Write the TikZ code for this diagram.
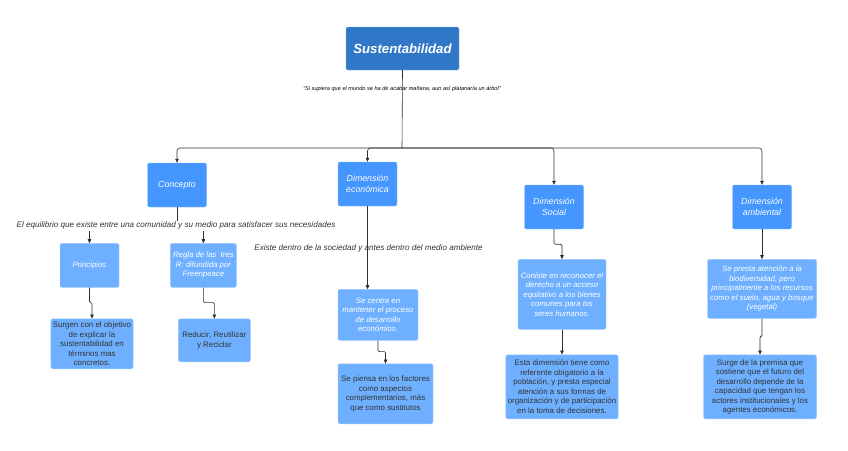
\documentclass[tikz,border=0pt]{standalone}
\usepackage{fontspec}
\setmainfont{Liberation Sans}
\usetikzlibrary{positioning,arrows.meta}
\definecolor{Title}{HTML}{3177C7}
\definecolor{Dim}{HTML}{4596FF}
\definecolor{Leaf}{HTML}{6EB0FF}
\definecolor{Ink}{HTML}{333333}
\definecolor{Wire}{HTML}{2E2E2E}

\begin{document}
\begin{tikzpicture}[
  x=1pt, y=-1pt,
  every node/.style={align=center, inner sep=2pt},
  titlebox/.style={rounded corners=2pt, draw=Title!60!white, fill=Title, text=white, minimum width=113pt, minimum height=43pt, font=\fontsize{13.2}{15}\selectfont\bfseries\itshape},
  dimbox/.style={rounded corners=2pt, draw=Dim!70!white, fill=Dim, text=white, minimum width=59pt, minimum height=44pt, font=\fontsize{8.8}{10.8}\selectfont\itshape},
  notebox/.style={rounded corners=2pt, draw=Leaf!70!white, fill=Leaf, text=white, font=\fontsize{7.8}{9.5}\selectfont\itshape},
  leafbox/.style={rounded corners=2pt, draw=Leaf!70!white, fill=Leaf, text=Ink, font=\fontsize{7.9}{9.5}\selectfont},
  lbl/.style={text=Ink, font=\fontsize{8.1}{9}\selectfont\itshape, inner sep=0pt},
  arr/.style={-{Triangle[length=4pt, width=3.5pt]}, line width=0.6pt, Wire, rounded corners=3pt},
  jog/.style={arr, rounded corners=1.2pt}
]
\useasboundingbox (0,0) rectangle (848,450);

% Title
\node[titlebox] (sust) at (402.5,48.5) {Sustentabilidad};
\node[lbl, text=black, font=\fontsize{5.6}{6}\selectfont\itshape] (quote) at (402,89)
  {``Si supiera que el mundo se ha de acabar mañana, aun así platanaría un árbol''};
\coordinate (hub) at (402,148);

% Dimensions
\node[dimbox] (concepto) at (177,185) {Concepto};
\node[dimbox] (economica) at (367.5,184) {Dimensión\\económica};
\node[dimbox] (social) at (554,207) {Dimensión\\Social};
\node[dimbox] (ambiental) at (762,207) {Dimensión\\ambiental};

% Concepto branch
\node[lbl] (equilibrio) at (176,225) {El equilibrio que existe entre una comunidad y su medio para satisfacer sus necesidades};
\node[notebox, minimum width=59pt, minimum height=44pt, below=36pt of concepto, xshift=-87.5pt] (principios) {Principios};
\node[notebox, minimum width=66pt, minimum height=44pt, right=51pt of principios] (regla) {Regla de las\ \ tres\\R: difundida por\\Freenpeace};
\node[leafbox, minimum width=82pt, minimum height=50pt, below=31pt of principios, xshift=2.5pt] (surgen)
  {Surgen con el objetivo\\de explicar la\\sustentabilidad en\\términos mas\\concretos.};
\node[leafbox, minimum width=72pt, minimum height=43pt, below=31pt of regla, xshift=11pt] (reducir)
  {Reducir, Reutilizar\\y Reciclar};

% Economica branch
\node[lbl] (existe) at (368.5,248) {Existe dentro de la sociedad y antes dentro del medio ambiente};
\node[notebox, minimum width=80pt, minimum height=51pt, below=83pt of economica, xshift=10.5pt] (centra)
  {Se centra en\\mantener el proceso\\de desarrollo\\económico.};
\node[leafbox, minimum width=95pt, minimum height=60pt, below=23pt of centra, xshift=7.5pt] (piensa)
  {Se piensa en los factores\\como aspectos\\complementarios, más\\que como sustitutos};

% Social branch
\node[notebox, minimum width=88pt, minimum height=70pt, below=30pt of social, xshift=8pt] (coniste)
  {Coniste en reconocer el\\derecho a un acceso\\equitativo a los bienes\\comunes para los\\seres humanos.};
\node[leafbox, minimum width=112pt, minimum height=64pt, below=25pt of coniste] (esta)
  {Esta dimensión tiene como\\referente obigatorio a la\\población, y presta especial\\atención a sus formas de\\organización y de participación\\en la toma de decisiones.};

% Ambiental branch
\node[notebox, minimum width=109pt, minimum height=59pt, below=30pt of ambiental] (presta)
  {Se presta atención a la\\biodiversidad, pero\\principalmente a los recursos\\como el suelo, agua y bosque\\(vegetal)};
\node[leafbox, minimum width=113pt, minimum height=64pt, below=36pt of presta, xshift=-2pt] (surge)
  {Surge de la premisa que\\sostiene que el futuro del\\desarrollo depende de la\\capacidad que tengan los\\actores institucionales y los\\agentes económicos.};

% Arrows
\draw[line width=0.6pt, Wire] (sust.south) -- (hub);
\draw[arr] (hub) -| (concepto.north);
\draw[arr] (hub) -| (economica.north);
\draw[arr] (hub) -| (social.north);
\draw[arr] (hub) -| (ambiental.north);
\draw[line width=0.6pt, Wire] (concepto.south) -- (concepto.south |- equilibrio.north);
\draw[arr] ([yshift=-2pt]equilibrio.south -| principios.north) -- (principios.north);
\draw[arr] ([yshift=-2pt]equilibrio.south -| regla.north) -- (regla.north);
\draw[jog] (principios.south) -- ++(0,-15pt) -| (surgen.north);
\draw[jog] (regla.south) -- ++(0,-15pt) -| (reducir.north);
\draw[arr] (economica.south) -- (economica.south |- centra.north);
\draw[jog] (centra.south) -- ++(0,-11pt) -| (piensa.north);
\draw[jog] (social.south) -- ++(0,-15pt) -| (coniste.north);
\draw[arr] (coniste.south) -- (esta.north);
\draw[arr] (ambiental.south) -- (presta.north);
\draw[jog] (presta.south) -- ++(0,-18pt) -| (surge.north);
\end{tikzpicture}
\end{document}
